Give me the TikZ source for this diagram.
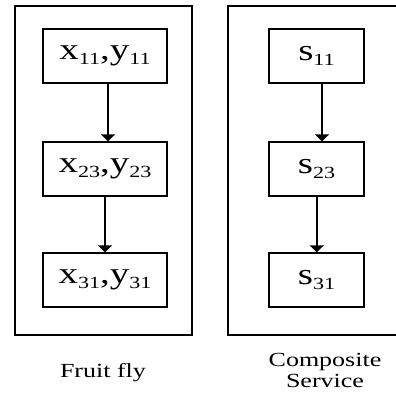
\documentclass[tikz,border=0pt]{standalone}
\usepackage{fontspec}
\setmainfont[FakeStretch=1.3]{Liberation Serif}
\usepackage{tikz}
\usetikzlibrary{arrows.meta, positioning}
\newcommand{\idx}[1]{\raisebox{-0.35ex}{\fontsize{17}{17}\selectfont #1}}

\begin{document}
\begin{tikzpicture}[
        x=1pt, y=-1pt,
        panel/.style={draw=black, line width=1.5pt},
        cell/.style={rectangle, draw=black, line width=1.3pt, minimum height=54pt, inner sep=0pt, font=\fontsize{30}{32}\selectfont},
        fcell/.style={cell, minimum width=124pt},
        scell/.style={cell, minimum width=95pt},
        caption/.style={align=center, font=\fontsize{20}{21}\selectfont},
        arrow/.style={-{Triangle[width=14pt,length=7pt]}, line width=1.5pt}
    ]
        \useasboundingbox (0,0) rectangle (396,392);

        % Outer panels
        \draw[panel] (15,6) rectangle (192,335);
        \draw[panel] (400,6) -- (228,6) -- (228,335) -- (400,335);

        % Fruit fly column
        \node[fcell] (f1) at (105,56) {x\idx{11},y\idx{11}};
        \node[fcell] (f2) at (105,169) {x\idx{23},y\idx{23}};
        \node[fcell] (f3) at (105,280) {x\idx{31},y\idx{31}};

        % Composite service column
        \node[scell] (s1) at (316.5,56) {s\idx{11}};
        \node[scell] (s2) at (316.5,169) {s\idx{23}};
        \node[scell] (s3) at (316.5,280) {s\idx{31}};

        % Connections
        \draw[arrow] ([xshift=3pt]f1.south) -- ([xshift=3pt]f2.north);
        \draw[arrow] (f2.south) -- (f3.north);
        \draw[arrow] ([xshift=5.5pt]s1.south) -- ([xshift=5.5pt]s2.north);
        \draw[arrow] ([xshift=0.25pt]s2.south) -- ([xshift=0.25pt]s3.north);

        % Captions
        \node[caption] (flylabel) at (103,373) {Fruit fly};
        \node[caption] (servlabel) at (325,370) {Composite\\Service};
    \end{tikzpicture}
\end{document}
